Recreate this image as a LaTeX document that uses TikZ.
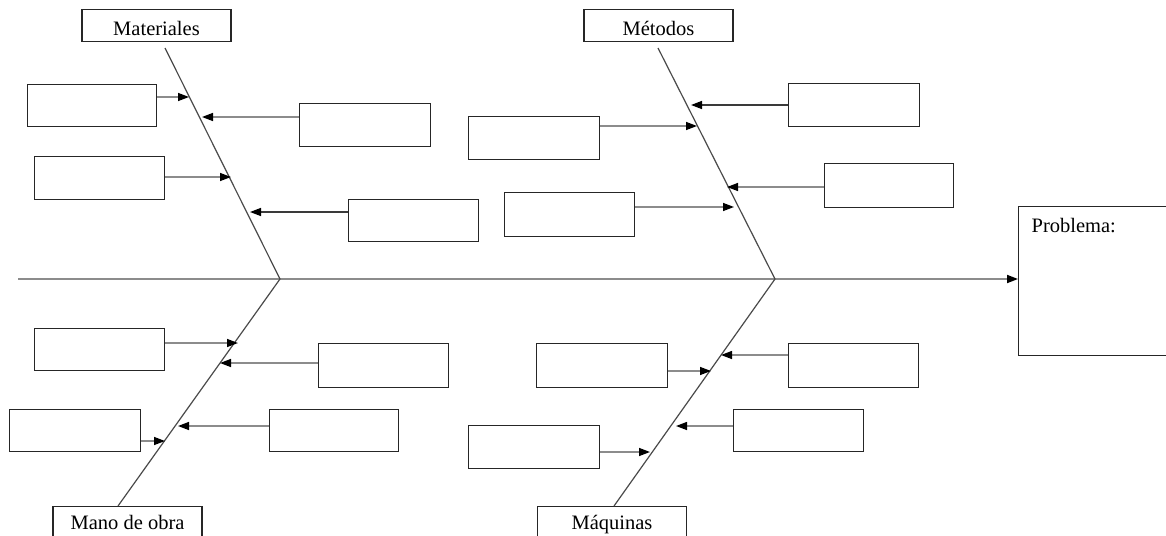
\documentclass[tikz,border=0pt]{standalone}
\usepackage{fontspec}
\setmainfont{Liberation Serif}
\usetikzlibrary{arrows.meta}

\definecolor{boxline}{HTML}{262626}
\definecolor{spinecol}{HTML}{4A4A4A}
\definecolor{conncol}{HTML}{8C8C8C}
\definecolor{darkconn}{HTML}{3A3A3A}

\tikzset{
  cbox/.style={draw=boxline, line width=1.2pt, rectangle, inner sep=0pt,
    anchor=north west},
  headbox/.style={draw=boxline, line width=1.2pt, rectangle, anchor=north,
    minimum width=149pt, inner xsep=0pt, inner ysep=3pt,
    font=\fontsize{20.5}{24}\selectfont},
  spine/.style={draw=spinecol, line width=1.2pt},
  trunk/.style={draw=conncol, line width=1.8pt,
    -{Triangle[length=11pt,width=8pt,color=black]}},
  conn/.style={draw=conncol, line width=1.4pt,
    -{Triangle[length=11pt,width=8pt,color=black]}},
  dconn/.style={conn, draw=darkconn}
}

\begin{document}
\begin{tikzpicture}[x=1pt, y=-1pt]
\useasboundingbox (0,0) rectangle (1166,535);
\clip (0,0) rectangle (1166,535);

% category headings
\node[headbox, text height=23pt, text depth=3pt] (mat) at (156.5,9) {Materiales};
\node[headbox, text height=23pt, text depth=3pt] (met) at (658.5,9) {Métodos};
\node[headbox, text height=20pt, text depth=12pt] (mano) at (127.5,506) {Mano de obra};
\node[headbox, text height=20pt, text depth=12pt] (maq) at (612,506) {Máquinas};

% problem box
\node[draw=boxline, line width=1.2pt, anchor=north west, align=left,
  text width=134pt, inner xsep=13pt, inner ysep=8pt,
  text height=18pt, text depth=115pt,
  font=\fontsize{20.5}{24}\selectfont] (prob) at (1018,206) {Problema:};

% spine end points
\coordinate (matTop) at (165,48);
\coordinate (metTop) at (658,48);
\coordinate (j1) at (280,279);
\coordinate (j2) at (775,279);
\coordinate (manoEnd) at (118,506);
\coordinate (maqEnd) at (614,506);
\coordinate (tail) at (18,279);

% trunk and spines
\draw[trunk] (tail) -- (prob.west |- tail);
\draw[spine] (matTop) -- (j1) -- (manoEnd);
\draw[spine] (metTop) -- (j2) -- (maqEnd);

% cause boxes: Materiales
\node[cbox, minimum width=129pt, minimum height=42pt] (a1) at (27,84) {};
\node[cbox, minimum width=131pt, minimum height=43pt] (a2) at (299,103) {};
\node[cbox, minimum width=130pt, minimum height=43pt] (a3) at (34,156) {};
\node[cbox, minimum width=130pt, minimum height=42pt] (a4) at (348,199) {};
% cause boxes: Métodos
\node[cbox, minimum width=131pt, minimum height=43pt] (b1) at (788,83) {};
\node[cbox, minimum width=131pt, minimum height=43pt] (b2) at (468,116) {};
\node[cbox, minimum width=129pt, minimum height=44pt] (b3) at (824,163) {};
\node[cbox, minimum width=130pt, minimum height=44pt] (b4) at (504,192) {};
% cause boxes: Mano de obra
\node[cbox, minimum width=130pt, minimum height=42pt] (c1) at (34,328) {};
\node[cbox, minimum width=130pt, minimum height=44pt] (c2) at (318,343) {};
\node[cbox, minimum width=131pt, minimum height=42pt] (c3) at (9,409) {};
\node[cbox, minimum width=129pt, minimum height=42pt] (c4) at (269,409) {};
% cause boxes: Máquinas
\node[cbox, minimum width=131pt, minimum height=44pt] (d1) at (536,343) {};
\node[cbox, minimum width=130pt, minimum height=44pt] (d2) at (788,343) {};
\node[cbox, minimum width=131pt, minimum height=43pt] (d3) at (468,425) {};
\node[cbox, minimum width=130pt, minimum height=42pt] (d4) at (733,409) {};

% arrow targets on the spines
\coordinate (ta1) at (189,97);
\coordinate (ta2) at (202,117);
\coordinate (ta3) at (231,177);
\coordinate (ta4) at (250,212);
\coordinate (tb1) at (691,105);
\coordinate (tb2) at (697,126);
\coordinate (tb3) at (727,187);
\coordinate (tb4) at (734,207);
\coordinate (tc1) at (238,343);
\coordinate (tc2) at (220,363);
\coordinate (tc3) at (165,441);
\coordinate (tc4) at (178,426);
\coordinate (td1) at (711,371);
\coordinate (td2) at (721,355);
\coordinate (td3) at (650,452);
\coordinate (td4) at (676,426);

% cause arrows
\draw[conn]  (a1.east |- ta1) -- (ta1);
\draw[conn]  (a2.west |- ta2) -- (ta2);
\draw[conn]  (a3.east |- ta3) -- (ta3);
\draw[dconn] (a4.west |- ta4) -- (ta4);
\draw[dconn] (b1.west |- tb1) -- (tb1);
\draw[conn]  (b2.east |- tb2) -- (tb2);
\draw[conn]  (b3.west |- tb3) -- (tb3);
\draw[conn]  (b4.east |- tb4) -- (tb4);
\draw[conn]  (c1.east |- tc1) -- (tc1);
\draw[conn]  (c2.west |- tc2) -- (tc2);
\draw[conn]  (c3.east |- tc3) -- (tc3);
\draw[conn]  (c4.west |- tc4) -- (tc4);
\draw[conn]  (d1.east |- td1) -- (td1);
\draw[conn]  (d2.west |- td2) -- (td2);
\draw[conn]  (d3.east |- td3) -- (td3);
\draw[conn]  (d4.west |- td4) -- (td4);
\end{tikzpicture}
\end{document}
